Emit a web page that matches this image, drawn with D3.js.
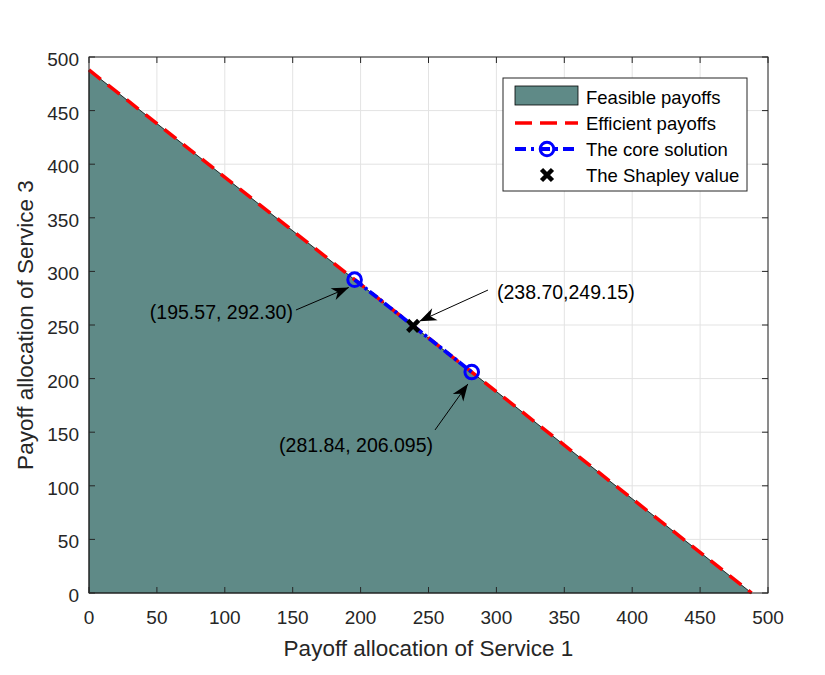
<!DOCTYPE html>
<html><head><meta charset="utf-8">
<script src="https://cdn.jsdelivr.net/npm/d3@7"></script>
<style>body{margin:0;background:#fff}svg text{font-family:"Liberation Sans",Arial,sans-serif}</style>
</head><body>
<svg id="c" width="825" height="675"></svg>
<script>
const totalPayoff = 487.9;
const xTicks = [0,50,100,150,200,250,300,350,400,450,500];
const yTicks = [0,50,100,150,200,250,300,350,400,450,500];
const coreX = [195.57, 281.84];
const coreY = [292.30, 206.095];
const shapleyX = [238.70];
const shapleyY = [249.15];
const annoText = ["(195.57, 292.30)", "(281.84, 206.095)", "(238.70,249.15)"];
const annoTailX = [152.4, 254.8, 293.8];
const annoTailY = [264.0, 152.1, 282.6];
const annoHeadX = [191.3, 279.0, 243.3];
const annoHeadY = [285.0, 195.0, 253.5];
const legendLabels = ["Feasible payoffs","Efficient payoffs","The core solution","The Shapley value"];

const svg = d3.select("#c");
const L=89,R=768,T=57,B=593;
const x = d3.scaleLinear().domain([0,500]).range([L,R]);
const y = d3.scaleLinear().domain([0,500]).range([B,T]);
const fillC = "#5f8a87";

svg.append("rect").attr("x",L).attr("y",T).attr("width",R-L).attr("height",B-T).attr("fill","#fff");
const g = svg.append("g");
g.selectAll(".gx").data(xTicks).enter().append("line")
 .attr("x1",d=>x(d)).attr("x2",d=>x(d)).attr("y1",T).attr("y2",B).attr("stroke","#e3e3e3").attr("stroke-width",1);
g.selectAll(".gy").data(yTicks).enter().append("line")
 .attr("y1",d=>y(d)).attr("y2",d=>y(d)).attr("x1",L).attr("x2",R).attr("stroke","#e3e3e3").attr("stroke-width",1);

const tri = [[0,0],[0,totalPayoff],[totalPayoff,0]];
svg.append("path").attr("d", d3.line().x(d=>x(d[0])).y(d=>y(d[1]))(tri)+"Z")
 .attr("fill",fillC).attr("stroke","#000").attr("stroke-width",0.8);

svg.append("line").attr("x1",x(0)).attr("y1",y(totalPayoff)).attr("x2",x(totalPayoff)).attr("y2",y(0))
 .attr("stroke","#ff0000").attr("stroke-width",3.5).attr("stroke-dasharray","15,9");

svg.append("line").attr("x1",x(coreX[0])).attr("y1",y(coreY[0])).attr("x2",x(coreX[1])).attr("y2",y(coreY[1]))
 .attr("stroke","#0000ff").attr("stroke-width",3.8).attr("stroke-dasharray","10,3,3,3");
svg.selectAll(".cm").data(coreX).enter().append("circle")
 .attr("cx",d=>x(d)).attr("cy",(d,i)=>y(coreY[i])).attr("r",6.8).attr("fill","none").attr("stroke","#0000ff").attr("stroke-width",3);

function xMark(sel,cx,cy,s){
  sel.append("path").attr("d",`M${cx-s},${cy-s}L${cx+s},${cy+s}M${cx-s},${cy+s}L${cx+s},${cy-s}`)
   .attr("stroke","#000").attr("stroke-width",4.5);
}
shapleyX.forEach((d,i)=>xMark(svg,x(d),y(shapleyY[i]),5.5));

function arrow(x1,y1,x2,y2){
  svg.append("line").attr("x1",x1).attr("y1",y1).attr("x2",x2).attr("y2",y2).attr("stroke","#000").attr("stroke-width",1);
  const a=Math.atan2(y2-y1,x2-x1), len=17, w=6.5, back=12;
  const ca=Math.cos(a), sa=Math.sin(a);
  const p=(u,v)=>[x2-u*ca + v*sa, y2-u*sa - v*ca];
  const pts=[[x2,y2],p(len,w),p(back,0),p(len,-w)];
  svg.append("path").attr("d","M"+pts.map(q=>q.join(",")).join("L")+"Z").attr("fill","#000");
}
annoText.forEach((t,i)=>{
  arrow(x(annoTailX[i]),y(annoTailY[i]),x(annoHeadX[i]),y(annoHeadY[i]));
});
const txtAnchor = ["end","end","start"];
const txtDX = [-3,-2,9];
const txtDY = [2,15,2];
annoText.forEach((t,i)=>{
  svg.append("text").attr("x",x(annoTailX[i])+txtDX[i]).attr("y",y(annoTailY[i])+txtDY[i]+7)
   .attr("text-anchor",txtAnchor[i]).attr("font-size",19.5).attr("fill","#000").text(t);
});

svg.append("rect").attr("x",L).attr("y",T).attr("width",R-L).attr("height",B-T).attr("fill","none").attr("stroke","#262626").attr("stroke-width",1);
const tl=6;
xTicks.forEach(d=>{
  svg.append("line").attr("x1",x(d)).attr("x2",x(d)).attr("y1",B).attr("y2",B-tl).attr("stroke","#262626");
  svg.append("line").attr("x1",x(d)).attr("x2",x(d)).attr("y1",T).attr("y2",T+tl).attr("stroke","#262626");
  svg.append("text").attr("x",x(d)).attr("y",B+31).attr("text-anchor","middle").attr("font-size",19).attr("fill","#262626").text(d);
});
yTicks.forEach(d=>{
  svg.append("line").attr("y1",y(d)).attr("y2",y(d)).attr("x1",L).attr("x2",L+tl).attr("stroke","#262626");
  svg.append("line").attr("y1",y(d)).attr("y2",y(d)).attr("x1",R).attr("x2",R-tl).attr("stroke","#262626");
  svg.append("text").attr("x",L-10).attr("y",y(d)+9).attr("text-anchor","end").attr("font-size",19).attr("fill","#262626").text(d);
});
svg.append("text").attr("x",(L+R)/2).attr("y",656).attr("text-anchor","middle").attr("font-size",22.5).attr("fill","#262626").text("Payoff allocation of Service 1");
svg.append("text").attr("transform",`translate(33,${(T+B)/2}) rotate(-90)`).attr("text-anchor","middle").attr("font-size",22.5).attr("fill","#262626").text("Payoff allocation of Service 3");

const lg = svg.append("g");
lg.append("rect").attr("x",503).attr("y",78).attr("width",244).attr("height",113).attr("fill","#fff").attr("stroke","#262626").attr("stroke-width",1);
const rowY=[97,123,149,175];
lg.append("rect").attr("x",515).attr("y",86).attr("width",63).attr("height",19).attr("fill",fillC).attr("stroke","#000").attr("stroke-width",0.8);
lg.append("line").attr("x1",515).attr("x2",578).attr("y1",rowY[1]).attr("y2",rowY[1]).attr("stroke","#ff0000").attr("stroke-width",3.5).attr("stroke-dasharray","17,8");
lg.append("line").attr("x1",515).attr("x2",578).attr("y1",rowY[2]).attr("y2",rowY[2]).attr("stroke","#0000ff").attr("stroke-width",3.8).attr("stroke-dasharray","11,5,3,5");
lg.append("circle").attr("cx",547).attr("cy",rowY[2]).attr("r",6.8).attr("fill","none").attr("stroke","#0000ff").attr("stroke-width",3);
xMark(lg,547,rowY[3],5.5);
legendLabels.forEach((t,i)=>{
  lg.append("text").attr("x",586).attr("y",rowY[i]+6.5).attr("font-size",18.5).attr("fill","#000").text(t);
});
</script>
</body></html>
